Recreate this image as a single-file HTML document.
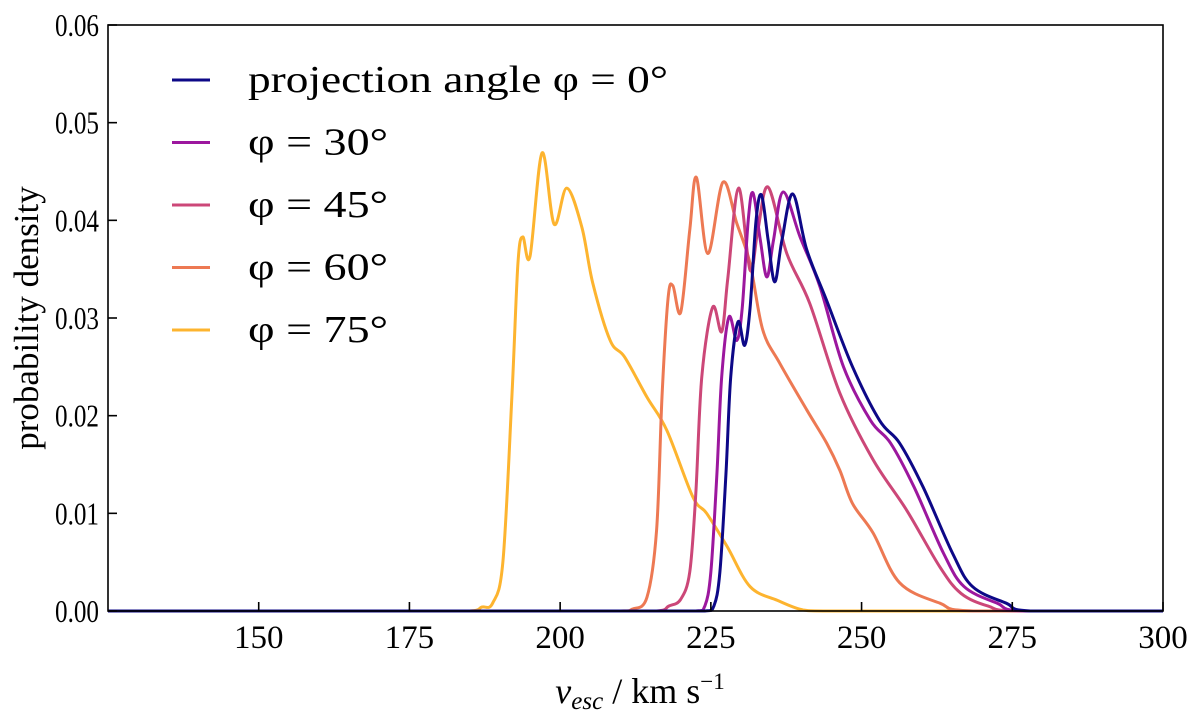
<!DOCTYPE html>
<html><head><meta charset="utf-8"><style>
body{margin:0;background:#fff}
svg text{font-family:"Liberation Serif",serif;fill:#000}
</style></head><body>
<svg id="chart" width="1200" height="720" viewBox="0 0 1200 720" xmlns="http://www.w3.org/2000/svg">
<g id="curves"></g>
<rect x="108" y="25" width="1055" height="586" fill="none" stroke="#000" stroke-width="1.6"/>
<g id="ticks"></g>
<text x="640" y="703" text-anchor="middle" font-size="36"><tspan font-style="italic">v</tspan><tspan font-style="italic" font-size="25" dy="6">esc</tspan><tspan dy="-6"> / km s</tspan><tspan font-size="23" dy="-14">−1</tspan></text>
<text transform="translate(38,318) rotate(-90)" text-anchor="middle" font-size="35">probability density</text>
<g id="legend"></g>
</svg>
<script>
const xTicks=[150,175,200,225,250,275,300];
const yTicks=[0,0.01,0.02,0.03,0.04,0.05,0.06];
const yTickLabels=["0.00","0.01","0.02","0.03","0.04","0.05","0.06"];
const seriesLabels=["projection angle φ = 0°","φ = 30°","φ = 45°","φ = 60°","φ = 75°"];
const seriesColors=["#0d0887","#9c179e","#cc4778","#ed7953","#fdb42f"];
const phi0=[[125,0],[224,0],[225.5,0.0005],[226.5,0.004],[227.5,0.014],[228.3,0.024],[229.5,0.0296],[230.6,0.0272],[231.5,0.031],[232.5,0.040],[233.4,0.0426],[234.5,0.038],[235.6,0.0337],[236.8,0.038],[238.6,0.0427],[240.9,0.037],[244.2,0.0318],[248.5,0.025],[253,0.0195],[256.3,0.0172],[260.2,0.0127],[265.1,0.0059],[268.4,0.0025],[274,0.0008],[278,0],[300,0]];
const phi30=[[125,0],[222.5,0],[224,0.0005],[225,0.004],[226,0.014],[226.8,0.024],[228,0.0301],[229.3,0.0277],[230.2,0.031],[231.2,0.040],[232,0.0428],[233.2,0.038],[234.3,0.0342],[235.4,0.038],[237,0.0429],[239.8,0.0383],[243.1,0.0332],[247,0.025],[251.5,0.0195],[254.8,0.0172],[258.7,0.0127],[263.6,0.0059],[267,0.0025],[272.5,0.0008],[277,0],[300,0]];
const phi45=[[125,0],[216,0],[218,0.0005],[220,0.0012],[221.5,0.004],[222.5,0.012],[223.5,0.024],[225.3,0.0311],[226.8,0.0286],[227.8,0.034],[229.6,0.0433],[231.5,0.0349],[232.8,0.039],[234.5,0.0434],[237.6,0.0366],[241.4,0.0315],[246.4,0.0223],[251.9,0.0155],[257.5,0.0103],[263,0.0045],[266.5,0.0018],[271,0.0005],[276,0],[300,0]];
const phi60=[[125,0],[210,0],[212,0.0002],[214.4,0.0014],[216,0.0083],[216.9,0.022],[217.9,0.032],[218.7,0.0333],[220,0.0306],[221.5,0.039],[222.6,0.0444],[224.5,0.0366],[227,0.0439],[229.3,0.0397],[231.5,0.0356],[233.6,0.0288],[236.4,0.0254],[240.9,0.0206],[244.2,0.0172],[246.4,0.0144],[248.5,0.011],[251.9,0.008],[256.3,0.0029],[263,0.0008],[268.5,0],[300,0]];
const phi75=[[125,0],[185,0],[187,0.0004],[188.8,0.0008],[190.5,0.005],[192,0.022],[193,0.0356],[193.8,0.0383],[195,0.0363],[197,0.0469],[199,0.0396],[201.1,0.0433],[203.6,0.0393],[205.4,0.0336],[208.3,0.0277],[210.7,0.026],[214.4,0.0219],[217.7,0.0185],[222,0.0117],[224.3,0.01],[227.7,0.0066],[231.5,0.0025],[236,0.0011],[240.3,0.0001],[245,0],[300,0]];
const allSeries=[phi0,phi30,phi45,phi60,phi75];
const X0=108,X1=1163,Y0=611,Y1=25,XMIN=125,XMAX=300,YMIN=0,YMAX=0.06;
function xs(v){return X0+(v-XMIN)/(XMAX-XMIN)*(X1-X0);}
function ys(v){return Y0-(v-YMIN)/(YMAX-YMIN)*(Y0-Y1);}
const NS="http://www.w3.org/2000/svg";
function mk(t,a,p){const e=document.createElementNS(NS,t);for(const k in a)e.setAttribute(k,a[k]);p.appendChild(e);return e;}
function pathFor(pts){
  const P=pts.map(p=>[xs(p[0]),ys(p[1])]);
  let d="M"+P[0][0].toFixed(2)+","+P[0][1].toFixed(2);
  for(let i=0;i<P.length-1;i++){
    const p0=P[Math.max(0,i-1)],p1=P[i],p2=P[i+1],p3=P[Math.min(P.length-1,i+2)];
    let c1x=p1[0]+(p2[0]-p0[0])/6,c1y=p1[1]+(p2[1]-p0[1])/6;
    let c2x=p2[0]-(p3[0]-p1[0])/6,c2y=p2[1]-(p3[1]-p1[1])/6;
    c1x=Math.min(Math.max(c1x,p1[0]),p2[0]);c2x=Math.min(Math.max(c2x,p1[0]),p2[0]);
    c1y=Math.min(c1y,Y0);c2y=Math.min(c2y,Y0);
    d+=" C"+c1x.toFixed(2)+","+c1y.toFixed(2)+" "+c2x.toFixed(2)+","+c2y.toFixed(2)+" "+p2[0].toFixed(2)+","+p2[1].toFixed(2);
  }
  return d;
}
const cg=document.getElementById("curves");
for(let s=allSeries.length-1;s>=0;s--){
  const p=mk("path",{d:pathFor(allSeries[s]),fill:"none",stroke:seriesColors[s],"stroke-width":3,"stroke-linejoin":"round"},cg);
  
  
}
const tg=document.getElementById("ticks");
xTicks.forEach(v=>{
  const l=mk("line",{x1:xs(v),x2:xs(v),y1:Y0,y2:Y0-9,stroke:"#000","stroke-width":1.6},tg);
  
  
  const t=mk("text",{x:xs(v),y:648,"text-anchor":"middle","font-size":33},tg);
  
  
  t.textContent=v;
});
yTicks.forEach((v,i)=>{
  const l=mk("line",{x1:X0,x2:X0+9,y1:ys(v),y2:ys(v),stroke:"#000","stroke-width":1.6},tg);
  
  
  const t=mk("text",{x:55,y:ys(v)+11,"font-size":32,textLength:44,lengthAdjust:"spacingAndGlyphs"},tg);
  
  
  t.textContent=yTickLabels[i];
});
const legendWidths=[420,140,140,140,140];
const lg=document.getElementById("legend");
seriesLabels.forEach((lab,i)=>{
  const y=80+i*62.5;
  const l=mk("line",{x1:172,x2:210,y1:y,y2:y,stroke:seriesColors[i],"stroke-width":3},lg);
  
  
  const t=mk("text",{x:248,y:y+12,"font-size":38,textLength:legendWidths[i],lengthAdjust:"spacingAndGlyphs"},lg);
  
  
  t.textContent=lab;
});
</script>
</body></html>
